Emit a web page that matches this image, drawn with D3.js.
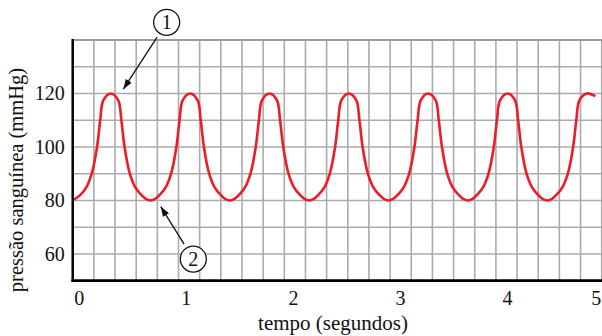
<!DOCTYPE html>
<html>
<head>
<meta charset="utf-8">
<script src="https://cdn.jsdelivr.net/npm/d3@7/dist/d3.min.js"></script>
</head>
<body style="margin:0">
<div class="chart"></div>
<script>
// axis labels
var timeTicks = [0, 1, 2, 3, 4, 5];
var pressureTicks = [60, 80, 100, 120];
var xTitle = 'tempo (segundos)';
var yTitle = 'pressão sanguínea (mmHg)';

// blood pressure trace
var seconds = [
	0, 0.07, 0.13, 0.18, 0.23, 0.26, 0.29, 0.36, 0.43, 0.46, 0.49, 0.54, 0.59, 0.65, 0.69, 0.735,
	0.78, 0.82, 0.88, 0.93, 0.98, 1.01, 1.04, 1.11, 1.18, 1.21, 1.24, 1.29, 1.34, 1.40, 1.44, 1.485,
	1.53, 1.57, 1.63, 1.68, 1.73, 1.76, 1.79, 1.86, 1.93, 1.96, 1.99, 2.04, 2.09, 2.15, 2.19, 2.235,
	2.28, 2.32, 2.38, 2.43, 2.48, 2.51, 2.54, 2.61, 2.68, 2.71, 2.74, 2.79, 2.84, 2.90, 2.94, 2.985,
	3.03, 3.07, 3.13, 3.18, 3.23, 3.26, 3.29, 3.36, 3.43, 3.46, 3.49, 3.54, 3.59, 3.65, 3.69, 3.735,
	3.78, 3.82, 3.88, 3.93, 3.98, 4.01, 4.04, 4.11, 4.18, 4.21, 4.24, 4.29, 4.34, 4.40, 4.44, 4.485,
	4.53, 4.57, 4.63, 4.68, 4.73, 4.76, 4.79, 4.86, 4.94
];
var pressure = [
	80, 82, 85, 90, 100, 110, 117.5, 120, 117.5, 110, 100, 90, 85, 82, 80.6, 80,
	80.6, 82, 85, 90, 100, 110, 117.5, 120, 117.5, 110, 100, 90, 85, 82, 80.6, 80,
	80.6, 82, 85, 90, 100, 110, 117.5, 120, 117.5, 110, 100, 90, 85, 82, 80.6, 80,
	80.6, 82, 85, 90, 100, 110, 117.5, 120, 117.5, 110, 100, 90, 85, 82, 80.6, 80,
	80.6, 82, 85, 90, 100, 110, 117.5, 120, 117.5, 110, 100, 90, 85, 82, 80.6, 80,
	80.6, 82, 85, 90, 100, 110, 117.5, 120, 117.5, 110, 100, 90, 85, 82, 80.6, 80,
	80.6, 82, 85, 90, 100, 110, 117.5, 120, 119
];

// numbered callouts (circle centre and arrow tip, in data units)
var calloutLabels = ['1', '2'];
var calloutCentres = [[0.888, 146.6], [1.14, 58.1]];
var calloutTips = [[0.478, 121.6], [0.832, 77.7]];

(function() {

	var width = 602,
		height = 336,
		plotLeft = 72.7,
		plotRight = 601.7,
		plotTop = 40,
		plotBottom = 280.7,
		serif = "'Liberation Serif'";

	var x = d3.scaleLinear().domain([0, 5]).range([plotLeft, plotRight]);
	var y = d3.scaleLinear().domain([50, 140]).range([plotBottom, plotTop]);

	var svg = d3.select('.chart').append('svg')
		.attr('width', width)
		.attr('height', height);

	svg.append('defs').append('marker')
		.attr('id', 'head')
		.attr('markerUnits', 'userSpaceOnUse')
		.attr('viewBox', '0 0 10 7')
		.attr('markerWidth', 10)
		.attr('markerHeight', 7)
		.attr('refX', 10)
		.attr('refY', 3.5)
		.attr('orient', 'auto')
		.append('path')
		.attr('d', 'M0,0 L10,3.5 L0,7 Z')
		.attr('fill', '#111');

	// grid
	var grid = svg.append('g').attr('class', 'grid');
	grid.selectAll('.vline')
		.data(x.ticks(20).filter(function(d) { return d > 0; }))
		.enter().append('line')
		.attr('class', 'vline')
		.attr('x1', x).attr('x2', x)
		.attr('y1', plotTop).attr('y2', plotBottom)
		.attr('stroke', '#ababab')
		.attr('stroke-width', 1.6);
	grid.selectAll('.hline')
		.data(y.ticks(9).filter(function(d) { return d > 50; }))
		.enter().append('line')
		.attr('class', 'hline')
		.attr('x1', plotLeft).attr('x2', width)
		.attr('y1', y).attr('y2', y)
		.attr('stroke', function(d) { return d === 140 ? '#9c9c9c' : '#ababab'; })
		.attr('stroke-width', function(d) { return d === 140 ? 2 : 1.6; });

	// trace
	var points = seconds.map(function(t, i) { return [t, pressure[i]]; });
	var line = d3.line()
		.x(function(d) { return x(d[0]); })
		.y(function(d) { return y(d[1]); })
		.curve(d3.curveCatmullRom.alpha(0.5));
	svg.append('path')
		.datum(points)
		.attr('d', line)
		.attr('fill', 'none')
		.attr('stroke', '#ec1c2a')
		.attr('stroke-width', 2.6)
		.attr('stroke-linejoin', 'round');

	// axes
	var xAxis = svg.append('g')
		.attr('transform', 'translate(0,' + plotBottom + ')')
		.call(d3.axisBottom(x).tickValues(timeTicks).tickFormat(d3.format('d'))
			.tickSize(0).tickPadding(10));
	xAxis.select('.domain').remove();
	xAxis.selectAll('text')
		.style('font-family', serif)
		.style('font-size', '20px')
		.attr('fill', '#111')
		.attr('dx', function(d) { return d === 5 ? -6 : 6 + 1.3 * d; });

	var yAxis = svg.append('g')
		.attr('transform', 'translate(' + plotLeft + ',0)')
		.call(d3.axisLeft(y).tickValues(pressureTicks).tickFormat(d3.format('d'))
			.tickSize(0).tickPadding(8));
	yAxis.select('.domain').remove();
	yAxis.selectAll('text')
		.style('font-family', serif)
		.style('font-size', '20px')
		.attr('fill', '#111');

	svg.append('line')
		.attr('x1', plotLeft).attr('x2', plotLeft)
		.attr('y1', plotTop - 1).attr('y2', plotBottom + 1.3)
		.attr('stroke', '#000').attr('stroke-width', 2.5);
	svg.append('line')
		.attr('x1', plotLeft - 1.2).attr('x2', width)
		.attr('y1', plotBottom).attr('y2', plotBottom)
		.attr('stroke', '#000').attr('stroke-width', 2.7);

	svg.append('text')
		.attr('x', 333).attr('y', 330)
		.attr('text-anchor', 'middle')
		.attr('fill', '#111')
		.style('font-family', serif)
		.style('font-size', '21px')
		.text(xTitle);
	svg.append('text')
		.attr('transform', 'translate(23,180) rotate(-90)')
		.attr('text-anchor', 'middle')
		.attr('fill', '#111')
		.style('font-family', serif)
		.style('font-size', '20.5px')
		.text(yTitle);

	// callouts
	var r = 13;
	calloutLabels.forEach(function(label, i) {
		var cx = x(calloutCentres[i][0]), cy = y(calloutCentres[i][1]),
			tx = x(calloutTips[i][0]), ty = y(calloutTips[i][1]),
			dx = tx - cx, dy = ty - cy,
			len = Math.sqrt(dx * dx + dy * dy);
		svg.append('line')
			.attr('x1', cx + dx / len * (r + 4.5))
			.attr('y1', cy + dy / len * (r + 4.5))
			.attr('x2', tx).attr('y2', ty)
			.attr('stroke', '#111')
			.attr('stroke-width', 1.3)
			.attr('marker-end', 'url(#head)');
		svg.append('circle')
			.attr('cx', cx).attr('cy', cy).attr('r', r)
			.attr('fill', '#fff')
			.attr('stroke', '#111')
			.attr('stroke-width', 1.3);
		svg.append('text')
			.attr('x', cx).attr('y', cy + 7)
			.attr('text-anchor', 'middle')
			.attr('fill', '#111')
			.style('font-family', serif)
			.style('font-size', '20px')
			.text(label);
	});

})();
</script>
</body>
</html>
